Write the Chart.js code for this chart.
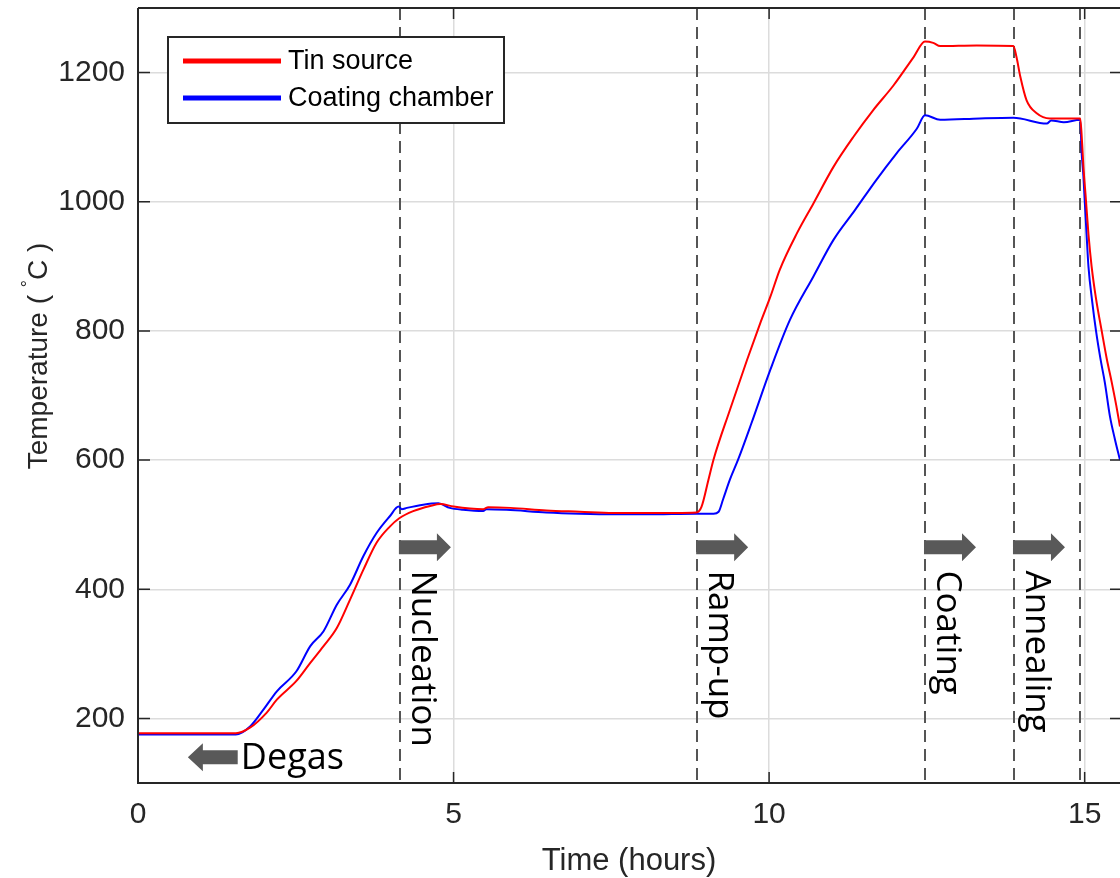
<!DOCTYPE html>
<html>
<head>
<meta charset="utf-8">
<script src="https://cdn.jsdelivr.net/npm/chart.js@4.4.1/dist/chart.umd.min.js"></script>
<style>
  html, body { margin: 0; padding: 0; background: #ffffff; }
  canvas { display: block; }
</style>
</head>
<body>
<canvas id="c" width="1120" height="878"></canvas>
<script>
// ---------------- data ----------------
const seriesNames = ['Tin source', 'Coating chamber'];

const tinTime = [0, 1.55, 1.78, 2.04, 2.2, 2.51, 2.73, 2.94, 3.15, 3.36, 3.57, 3.78, 3.99, 4.14, 4.36, 4.63, 4.79, 5.0, 5.47, 5.55, 5.9, 6.47, 7.0, 7.53, 8.06, 8.85, 8.93, 9.04, 9.12, 9.38, 9.65, 9.86, 10.02, 10.17, 10.44, 10.7, 11.02, 11.34, 11.65, 11.97, 12.29, 12.47, 12.6, 12.71, 13.29, 13.87, 13.92, 13.98, 14.08, 14.24, 14.45, 14.93, 14.96, 14.98, 15.02, 15.06, 15.11, 15.18, 15.27, 15.35, 15.43, 15.5, 15.56];
const tinTemp = [177, 177, 186, 209, 229, 258, 286, 312, 340, 384, 430, 472, 497, 510, 521, 529, 532, 528, 524, 527, 526, 522, 520, 518, 518, 519, 528, 570, 601, 678, 755, 812, 853, 895, 951, 997, 1054, 1101, 1142, 1180, 1224, 1248, 1246, 1241, 1242, 1241, 1224, 1194, 1157, 1137, 1129, 1129, 1090, 1055, 1003, 950, 900, 850, 800, 757, 720, 685, 652];

const chamberTime = [0, 1.55, 1.78, 1.99, 2.2, 2.51, 2.73, 2.94, 3.15, 3.36, 3.57, 3.78, 3.99, 4.13, 4.18, 4.26, 4.52, 4.76, 4.94, 5.15, 5.47, 5.52, 5.84, 6.47, 7.0, 7.53, 8.06, 8.85, 9.12, 9.2, 9.27, 9.38, 9.51, 9.72, 10.02, 10.33, 10.7, 11.02, 11.36, 11.7, 12.02, 12.34, 12.47, 12.71, 13.34, 13.87, 14.4, 14.47, 14.67, 14.93, 14.95, 14.98, 15.0, 15.03, 15.06, 15.12, 15.18, 15.25, 15.32, 15.4, 15.48, 15.56];
const chamberTemp = [175, 175, 188, 214, 242, 273, 312, 335, 376, 407, 451, 487, 513, 528, 524, 526, 531, 533, 526, 523, 521, 524, 523, 519, 517, 516, 516, 517, 517, 520, 539, 570, 601, 657, 740, 817, 884, 941, 987, 1034, 1075, 1113, 1134, 1127, 1129, 1130, 1121, 1126, 1123, 1127, 1080, 1040, 1003, 950, 900, 845, 800, 757, 720, 668, 632, 600];

const xTickValues = [0, 5, 10, 15];
const yTickValues = [200, 400, 600, 800, 1000, 1200];

const phaseTimes = [4.15, 8.86, 12.47, 13.88, 14.93];
const phaseLabels = ['Nucleation', 'Ramp-up', 'Coating', 'Annealing'];
const degasLabel = 'Degas';

// ---------------- styling ----------------
const AXIS_FONT = "'Liberation Sans', Arial, sans-serif";
const NOTE_FONT = "'Open Sans', 'Noto Sans', sans-serif";
const INK = '#262626';
const ARROW = '#595959';

function pts(xs, ys) { return xs.map((x, i) => ({ x: x, y: ys[i] })); }

const decor = {
  id: 'decor',
  beforeDatasetsDraw(chart) {
    const { ctx, chartArea: a, scales: { x } } = chart;
    ctx.save();
    ctx.strokeStyle = '#555555';
    ctx.lineWidth = 2;
    ctx.setLineDash([12, 7]);
    phaseTimes.forEach(t => {
      const px = Math.round(x.getPixelForValue(t));
      ctx.beginPath();
      ctx.moveTo(px, a.top);
      ctx.lineTo(px, a.bottom);
      ctx.stroke();
    });
    ctx.restore();
  },
  afterDatasetsDraw(chart) {
    const { ctx, chartArea: a, scales: { x, y } } = chart;
    ctx.save();
    // axes box
    ctx.strokeStyle = INK;
    ctx.lineWidth = 2;
    ctx.beginPath();
    ctx.moveTo(a.left, a.top);
    ctx.lineTo(a.left, a.bottom);
    ctx.lineTo(a.right + 1, a.bottom);
    ctx.moveTo(a.left, a.top);
    ctx.lineTo(a.right + 1, a.top);
    ctx.stroke();
    // inward ticks
    ctx.lineWidth = 1.5;
    ctx.beginPath();
    xTickValues.forEach(v => {
      const px = x.getPixelForValue(v);
      ctx.moveTo(px, a.bottom); ctx.lineTo(px, a.bottom - 11);
      ctx.moveTo(px, a.top); ctx.lineTo(px, a.top + 11);
    });
    yTickValues.forEach(v => {
      const py = y.getPixelForValue(v);
      ctx.moveTo(a.left, py); ctx.lineTo(a.left + 12, py);
      ctx.moveTo(a.right, py); ctx.lineTo(a.right - 10, py);
    });
    ctx.stroke();

    // phase arrows and labels
    const arrowY = y.getPixelForValue(465);
    const textTop = y.getPixelForValue(429);
    function rightArrow(x0, cy) {
      ctx.beginPath();
      ctx.moveTo(x0, cy - 7);
      ctx.lineTo(x0 + 38, cy - 7);
      ctx.lineTo(x0 + 38, cy - 14);
      ctx.lineTo(x0 + 52, cy);
      ctx.lineTo(x0 + 38, cy + 14);
      ctx.lineTo(x0 + 38, cy + 7);
      ctx.lineTo(x0, cy + 7);
      ctx.closePath();
      ctx.fill();
    }
    function leftArrow(xTip, xEnd, cy) {
      ctx.beginPath();
      ctx.moveTo(xTip, cy);
      ctx.lineTo(xTip + 15, cy - 14);
      ctx.lineTo(xTip + 15, cy - 7);
      ctx.lineTo(xEnd, cy - 7);
      ctx.lineTo(xEnd, cy + 7);
      ctx.lineTo(xTip + 15, cy + 7);
      ctx.lineTo(xTip + 15, cy + 14);
      ctx.closePath();
      ctx.fill();
    }
    phaseLabels.forEach((lab, i) => {
      const bx = x.getPixelForValue(phaseTimes[i]);
      ctx.fillStyle = ARROW;
      rightArrow(bx - 1, arrowY);
      ctx.save();
      ctx.translate(bx + 12, textTop);
      ctx.rotate(Math.PI / 2);
      ctx.fillStyle = '#000000';
      ctx.font = '35px ' + NOTE_FONT;
      ctx.textAlign = 'left';
      ctx.textBaseline = 'alphabetic';
      ctx.fillText(lab, 0, 0);
      ctx.restore();
    });
    // Degas
    ctx.fillStyle = ARROW;
    leftArrow(x.getPixelForValue(0.79), x.getPixelForValue(1.58), y.getPixelForValue(140));
    ctx.fillStyle = '#000000';
    ctx.font = '36px ' + NOTE_FONT;
    ctx.textAlign = 'left';
    ctx.textBaseline = 'alphabetic';
    ctx.fillText(degasLabel, x.getPixelForValue(1.63), y.getPixelForValue(122));
    ctx.restore();
  },
  afterDraw(chart) {
    const { ctx } = chart;
    ctx.save();
    // y-axis title with superscript degree
    ctx.translate(47, 356);
    ctx.rotate(-Math.PI / 2);
    ctx.fillStyle = INK;
    ctx.textBaseline = 'alphabetic';
    ctx.textAlign = 'left';
    const big = '28px ' + AXIS_FONT, small = '18px ' + AXIS_FONT;
    const p1 = 'Temperature ( ', p2 = '\u00B0', p3 = 'C )';
    ctx.font = big;
    const w1 = ctx.measureText(p1).width, w3 = ctx.measureText(p3).width;
    ctx.font = small;
    const w2 = ctx.measureText(p2).width;
    let sx = -(w1 + w2 + w3) / 2;
    ctx.font = big; ctx.fillText(p1, sx, 0); sx += w1;
    ctx.font = small; ctx.fillText(p2, sx, -13); sx += w2;
    ctx.font = big; ctx.fillText(p3, sx, 0);
    ctx.restore();

    // legend
    ctx.save();
    const L = 168, T = 37, R = 504, B = 123;
    ctx.fillStyle = '#ffffff';
    ctx.fillRect(L, T, R - L, B - T);
    ctx.strokeStyle = INK;
    ctx.lineWidth = 2;
    ctx.strokeRect(L, T, R - L, B - T);
    const ds = chart.data.datasets;
    const rows = [61, 98];
    ds.forEach((d, i) => {
      ctx.strokeStyle = d.borderColor;
      ctx.lineWidth = 5;
      ctx.beginPath();
      ctx.moveTo(183, rows[i]);
      ctx.lineTo(281, rows[i]);
      ctx.stroke();
      ctx.fillStyle = '#000000';
      ctx.font = '27px ' + AXIS_FONT;
      ctx.textAlign = 'left';
      ctx.textBaseline = 'middle';
      ctx.fillText(d.label, 288, rows[i] + 1);
    });
    ctx.restore();
  }
};

new Chart(document.getElementById('c'), {
  type: 'line',
  data: {
    datasets: [
      { label: seriesNames[0], data: pts(tinTime, tinTemp), borderColor: '#ff0000', borderWidth: 2, pointRadius: 0, cubicInterpolationMode: 'monotone', fill: false },
      { label: seriesNames[1], data: pts(chamberTime, chamberTemp), borderColor: '#0000ff', borderWidth: 2, pointRadius: 0, cubicInterpolationMode: 'monotone', fill: false }
    ]
  },
  options: {
    responsive: false,
    animation: false,
    layout: { padding: { top: 8, right: 0, left: 0, bottom: 0 } },
    plugins: { legend: { display: false }, tooltip: { enabled: false } },
    scales: {
      x: {
        type: 'linear', min: 0, max: 15.56,
        afterBuildTicks: s => { s.ticks = xTickValues.map(v => ({ value: v })); },
        afterFit: s => { s.height = 95; s.paddingLeft = 0; s.paddingRight = 0; },
        grid: { color: '#dcdcdc', lineWidth: 1.5, drawTicks: false },
        border: { display: false },
        ticks: { padding: 14, color: INK, font: { family: AXIS_FONT, size: 30 }, maxRotation: 0, autoSkip: false, callback: v => String(v) },
        title: { display: true, text: 'Time (hours)', color: INK, font: { family: AXIS_FONT, size: 31, lineHeight: 1.0 }, padding: { top: 0, bottom: 1 } }
      },
      y: {
        min: 100, max: 1300,
        afterBuildTicks: s => { s.ticks = yTickValues.map(v => ({ value: v })); },
        afterFit: s => { s.width = 138; s.paddingTop = 0; s.paddingBottom = 0; },
        grid: { color: '#dcdcdc', lineWidth: 1.5, drawTicks: false },
        border: { display: false },
        ticks: { padding: 13, color: INK, font: { family: AXIS_FONT, size: 30 }, callback: v => String(v) }
      }
    }
  },
  plugins: [decor]
});
</script>
</body>
</html>
